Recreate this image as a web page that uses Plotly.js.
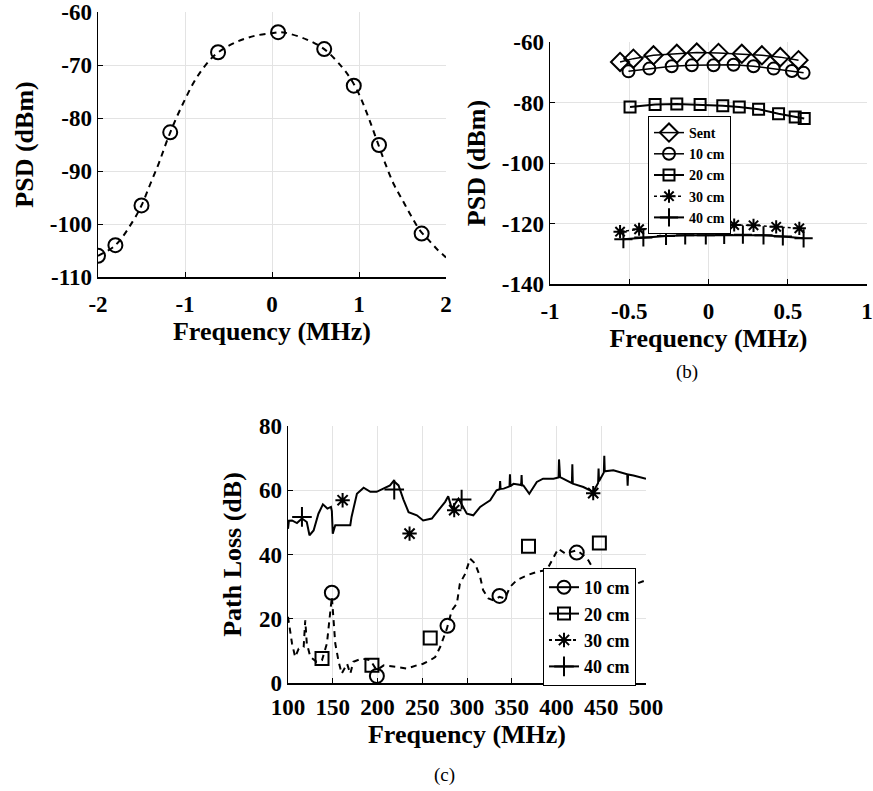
<!DOCTYPE html>
<html><head><meta charset="utf-8">
<script src="https://cdn.plot.ly/plotly-3.0.1.min.js"></script>
<style>html,body{margin:0;padding:0;background:#fff}</style>
</head><body><div id="chart" style="width:873px;height:791px"></div>
<script>
// ---------- Panel (a) ----------
const aCurveX = [-2,-1.8,-1.6,-1.5,-1.4,-1.3,-1.2,-1.1,-1.0,-0.9,-0.8,-0.7,-0.6,-0.4,-0.2,0,0.1,0.2,0.4,0.6,0.8,0.9,1.0,1.1,1.2,1.3,1.4,1.5,1.6,1.7,1.8,1.9,2.0];
const aCurveY = [-106,-104,-99.5,-96.5,-92.5,-88.5,-84,-80,-76.5,-73.3,-70.8,-68.8,-67.4,-65.6,-64.5,-64,-63.8,-64.1,-65.2,-67,-70.3,-72.5,-75.5,-79.5,-84,-88.5,-92.5,-95.5,-98.5,-101.2,-103,-104.8,-106.3];
const aMarkX = [-2,-1.8,-1.5,-1.17,-0.62,0.07,0.6,0.94,1.23,1.72];
const aMarkY = [-106,-104,-96.5,-82.7,-67.6,-63.8,-67,-73.9,-85.1,-101.8];
const aXTicks = [-2,-1,0,1,2];
const aXLabels = ["-2","-1","0","1","2"];
const aYTicks = [-110,-100,-90,-80,-70,-60];
const aYLabels = ["-110","-100","-90","-80","-70","-60"];

// ---------- Panel (b) ----------
const bSentX = [-0.558,-0.474,-0.347,-0.2,-0.074,0.063,0.21,0.337,0.453,0.568];
const bSentY = [-66.6,-65.5,-64.4,-63.9,-63.5,-63.6,-63.9,-64.4,-65,-66];
const b10X = [-0.505,-0.373,-0.232,-0.105,0.032,0.158,0.284,0.411,0.526,0.6];
const b10Y = [-69.7,-68.8,-68,-67.7,-67.7,-67.5,-68,-68.8,-69.6,-70.2];
const b20X = [-0.495,-0.337,-0.2,-0.053,0.09,0.194,0.316,0.442,0.547,0.604];
const b20Y = [-81.5,-80.7,-80.5,-80.7,-81.1,-81.5,-82.2,-83.7,-84.8,-85.3];
const b30X = [-0.558,-0.438,-0.305,-0.158,-0.032,0.074,0.162,0.284,0.427,0.573];
const b30Y = [-122.7,-121.9,-121.4,-121.1,-120.8,-120.8,-120.5,-120.6,-121.1,-121.6];
const b40X = [-0.537,-0.411,-0.268,-0.147,-0.017,0.099,0.217,0.347,0.469,0.6];
const b40Y = [-125.2,-124.6,-124.1,-123.9,-123.9,-123.8,-123.7,-123.9,-124.3,-124.9];
const bNames = ["Sent","10 cm","20 cm","30 cm","40 cm"];
const bXTicks = [-1,-0.5,0,0.5,1];
const bXLabels = ["-1","-0.5","0","0.5","1"];
const bYTicks = [-140,-120,-100,-80,-60];
const bYLabels = ["-140","-120","-100","-80","-60"];

// ---------- Panel (c) ----------
const c10LineX = [100,104.5,108,112,117.5,119.3,121,125,132,138,143.5,149,152.8,156.6,160,166,169.6,173,182.6,192,199,207,222,233,244,251,259,264.5,270,277.5,283,288.7,292,298,303.5,309,314.7,318,324,329.6,336.3,342.6,348,355.6,366.8,378,389,396.6,402,409.7,415,422.6,430,435.6,441,450,460,468,474.7,482,489.6,500];
const c10LineY = [20.6,12.3,8.1,10.7,11.2,19.5,12.3,8.1,6.6,7.1,12.3,26.8,12.3,6.6,2.9,6,2.9,6.6,7.6,7.1,4,5.5,5,4.5,5.5,6,7.1,8.1,11.2,16.9,22.6,24.7,30.9,34,38.7,37.2,33,28.9,26.3,25.7,26.8,26.3,29.9,32,33.5,34.6,35.1,39.2,41.8,40.3,40.8,41.3,39.8,38.2,35.6,32,30,29.5,28.9,29.4,30.9,32];
const c10MarkX = [149,199.3,278.2,336.3,422.6];
const c10MarkY = [28.1,2.2,17.8,27.1,40.6];
const c20MarkX = [138,193.8,258.9,368.7,447.9];
const c20MarkY = [7.6,5.5,14,42.6,43.6];
const c30MarkX = [161,235.8,285.7,441];
const c30MarkY = [56.9,46.5,53.8,59.1];
const c40LineX = [100,101,104.5,110,115.6,121,124,128.6,134,139,144,148,149,150,152.8,160,169.6,171,177,184.5,192,199,207,214,218,223.5,229,234.7,244,251,260.7,268,275.6,279,283,290.5,299.8,307,314.7,320,325.9,333,336.5,337,337.5,341,347.5,348,348.5,352,360.5,361,361.5,363,369.6,378,385,396.6,402.3,402.8,403.3,404,417.2,417.7,418.2,419,430,441,446.5,447,447.5,452.9,453.4,453.9,463.5,474.7,479,479.5,480,486,500];
const c40LineY = [48,50.5,50.6,49.8,51.2,50.1,46,47.5,52.7,55.6,54.3,54.8,53.5,46.5,49.1,49.1,49.1,51.7,58.9,60.8,59.5,59.5,60.5,61.5,62.9,61.5,57.1,53.2,52.2,50.6,51.2,53.8,56.4,58.1,54.3,57.4,52.7,52.2,54.8,55.8,56.9,60,60.3,62.9,60.4,60.5,61.2,65,61.3,62,61.6,64.7,61.5,61.5,58.9,62.6,63.6,63.6,64,69.6,64.1,64.1,62.2,68.1,62.1,62,61,59.5,62.3,66.8,62.8,65.5,70.7,65.9,66.2,65.2,65,61.4,64.9,64.6,63.6];
const c40MarkX = [115.6,218.7,294];
const c40MarkY = [51.7,60.2,57.1];
const cNames = ["10 cm","20 cm","30 cm","40 cm"];
const cXTicks = [100,150,200,250,300,350,400,450,500];
const cYTicks = [0,20,40,60,80];

const SERIF = "Liberation Serif, Times New Roman, serif";
const tickF = {family: SERIF, size: 23, color: "#000", weight: "bold"};
const titleF = {family: SERIF, size: 26, color: "#000", weight: "bold"};
const K = "#000";

function mk(sym, size, w){ return {symbol: sym, size: size, color: K, line: {color: K, width: w}}; }

const traces = [
  // (a)
  {x: aCurveX, y: aCurveY, xaxis: "x", yaxis: "y", mode: "lines", line: {color: K, width: 2, dash: "6px,5px", shape: "spline"}, showlegend: false},
  {x: aMarkX, y: aMarkY, xaxis: "x", yaxis: "y", mode: "markers", marker: mk("circle-open", 14, 2), showlegend: false},
  // (b)
  {x: bSentX, y: bSentY, xaxis: "x2", yaxis: "y2", name: bNames[0], legend: "legend", mode: "lines+markers", line: {color: K, width: 1.5}, marker: mk("diamond-open", 14, 2)},
  {x: b10X, y: b10Y, xaxis: "x2", yaxis: "y2", name: bNames[1], legend: "legend", mode: "lines+markers", line: {color: K, width: 1.5}, marker: mk("circle-open", 12, 2)},
  {x: b20X, y: b20Y, xaxis: "x2", yaxis: "y2", name: bNames[2], legend: "legend", mode: "lines+markers", line: {color: K, width: 2}, marker: mk("square-open", 11, 2)},
  {x: b30X, y: b30Y, xaxis: "x2", yaxis: "y2", name: bNames[3], legend: "legend", mode: "lines+markers", line: {color: K, width: 1.5, dash: "dot"}, marker: mk("asterisk-open", 11, 2)},
  {x: b40X, y: b40Y, xaxis: "x2", yaxis: "y2", name: bNames[4], legend: "legend", mode: "lines+markers", line: {color: K, width: 2}, marker: mk("cross-thin-open", 13, 2)},
  // (c)
  {x: c10LineX, y: c10LineY, xaxis: "x3", yaxis: "y3", mode: "lines", line: {color: K, width: 2, dash: "6px,5px"}, showlegend: false},
  {x: c40LineX, y: c40LineY, xaxis: "x3", yaxis: "y3", mode: "lines", line: {color: K, width: 2}, showlegend: false},
  {x: c10MarkX, y: c10MarkY, xaxis: "x3", yaxis: "y3", mode: "markers", marker: mk("circle-open", 14, 2), showlegend: false},
  {x: c20MarkX, y: c20MarkY, xaxis: "x3", yaxis: "y3", mode: "markers", marker: mk("square-open", 13, 2), showlegend: false},
  {x: c30MarkX, y: c30MarkY, xaxis: "x3", yaxis: "y3", mode: "markers", marker: mk("asterisk-open", 12, 2), showlegend: false},
  {x: c40MarkX, y: c40MarkY, xaxis: "x3", yaxis: "y3", mode: "markers", marker: mk("cross-thin-open", 14, 2), showlegend: false},
  // legend proxies for (c)
  {x: [null], y: [null], xaxis: "x3", yaxis: "y3", name: cNames[0], legend: "legend2", mode: "lines+markers", line: {color: K, width: 2}, marker: mk("circle-open", 13, 2)},
  {x: [null], y: [null], xaxis: "x3", yaxis: "y3", name: cNames[1], legend: "legend2", mode: "lines+markers", line: {color: K, width: 2}, marker: mk("square-open", 12, 2)},
  {x: [null], y: [null], xaxis: "x3", yaxis: "y3", name: cNames[2], legend: "legend2", mode: "lines+markers", line: {color: K, width: 2, dash: "dot"}, marker: mk("asterisk-open", 12, 2)},
  {x: [null], y: [null], xaxis: "x3", yaxis: "y3", name: cNames[3], legend: "legend2", mode: "lines+markers", line: {color: K, width: 2}, marker: mk("cross-thin-open", 14, 2)}
];

function ax(extra){
  return Object.assign({showgrid: true, gridcolor: "#e3e3e3", gridwidth: 1, zeroline: false,
    showline: true, linecolor: K, linewidth: 1.5, ticks: "inside", ticklen: 5, tickcolor: K,
    tickfont: tickF, fixedrange: true, tickmode: "array"}, extra);
}

const W = 873, H = 791;
const layout = {
  width: W, height: H, margin: {l: 0, r: 0, t: 0, b: 0},
  paper_bgcolor: "#fff", plot_bgcolor: "#fff",
  xaxis: ax({domain: [98/W, 446/W], range: [-2, 2], tickvals: aXTicks, ticktext: aXLabels, anchor: "y",
    ticklabelstandoff: 6, title: {text: "Frequency (MHz)", font: titleF, standoff: 4}}),
  yaxis: ax({domain: [1-277/H, 1-12/H], range: [-110, -60], tickvals: aYTicks, ticktext: aYLabels, anchor: "x",
    title: {text: "PSD (dBm)", font: titleF, standoff: 8}}),
  xaxis2: ax({domain: [550/W, 867/W], range: [-1, 1], tickvals: bXTicks, ticktext: bXLabels, anchor: "y2",
    ticklabelstandoff: 6, title: {text: "Frequency (MHz)", font: titleF, standoff: 2}}),
  yaxis2: ax({domain: [1-284/H, 1-42/H], range: [-140, -60], tickvals: bYTicks, ticktext: bYLabels, anchor: "x2",
    title: {text: "PSD (dBm)", font: titleF, standoff: 8}}),
  xaxis3: ax({domain: [288/W, 646/W], range: [100, 500], tickvals: cXTicks, anchor: "y3",
    ticklabelstandoff: 3, title: {text: "Frequency (MHz)", font: titleF, standoff: 0}}),
  yaxis3: ax({domain: [1-683/H, 1-426/H], range: [0, 80], tickvals: cYTicks, anchor: "x3",
    title: {text: "Path Loss (dB)", font: titleF, standoff: 10}}),
  legend: {x: 648/W, y: 1-116/H, xanchor: "left", yanchor: "top", bgcolor: "#fff",
    bordercolor: K, borderwidth: 1, font: {family: SERIF, size: 14, color: K, weight: "bold"},
    tracegroupgap: 0, itemwidth: 30},
  legend2: {x: 543/W, y: 1-568/H, xanchor: "left", yanchor: "top", bgcolor: "#fff",
    bordercolor: K, borderwidth: 1, font: {family: SERIF, size: 18, color: K, weight: "bold"},
    tracegroupgap: 0, itemwidth: 30},
  annotations: [
    {text: "(b)", xref: "paper", yref: "paper", x: 687/W, y: 1-372/H, xanchor: "center", yanchor: "middle",
      showarrow: false, font: {family: SERIF, size: 19, color: K}},
    {text: "(c)", xref: "paper", yref: "paper", x: 445/W, y: 1-775/H, xanchor: "center", yanchor: "middle",
      showarrow: false, font: {family: SERIF, size: 19, color: K}}
  ]
};

Plotly.newPlot("chart", traces, layout, {staticPlot: true, displayModeBar: false});
</script></body></html>
